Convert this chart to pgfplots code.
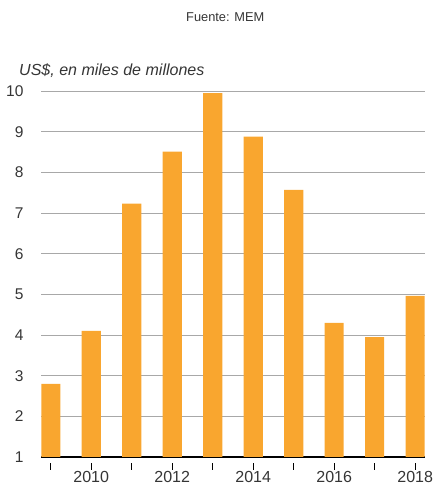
\documentclass[border=0pt]{standalone}
\usepackage{pgfplots}
\pgfplotsset{compat=1.18}
\usepackage{fontspec}
\setmainfont{Liberation Sans}
\definecolor{barorange}{HTML}{F9A62F}
\definecolor{gridgray}{HTML}{A8A8A8}
\definecolor{txtgray}{HTML}{353535}
\begin{document}
\begin{tikzpicture}
\begin{axis}[
  scale only axis,
  width=383.5pt, height=365.5pt,
  xmin=2008.76, xmax=2018.24,
  ymin=1, ymax=10,
  ybar, bar width=19pt, bar shift=0pt,
  axis x line*=bottom,
  axis y line*=left,
  x axis line style={black, line width=1.6pt},
  y axis line style={draw=none},
  ytick={1,2,...,10},
  ymajorgrids,
  major grid style={gridgray, line width=0.8pt},
  ytick style={draw=none},
  xtick={2009,2010,...,2018},
  xticklabels={,2010,,2012,,2014,,2016,,2018},
  tick align=outside,
  major tick length=13pt,
  xtick style={black, line width=0.9pt, dash pattern=on 7pt off 6pt},
  xticklabel style={font=\fontsize{16}{16}\selectfont, color=txtgray, inner sep=0pt, yshift=-1.5pt},
  yticklabel style={font=\fontsize{15.5}{16}\selectfont, color=txtgray, xshift=-1pt},
  /pgf/number format/assume math mode=true,
  clip=true,
]
\addplot[fill=barorange, draw=none] coordinates {
  (2009,2.80) (2010,4.10) (2011,7.23) (2012,8.51) (2013,9.95)
  (2014,8.88) (2015,7.57) (2016,4.30) (2017,3.95) (2018,4.96)
};
\coordinate (bl) at (rel axis cs:0,0);
\coordinate (tr) at (rel axis cs:1,1);
\coordinate (tl) at (rel axis cs:0,1);
\end{axis}
\node[anchor=base west, font=\itshape\fontsize{16}{16}\selectfont, color=txtgray, inner sep=0pt] at ([shift={(-22pt,16pt)}]tl) {US\$, en miles de millones};
\node[anchor=base, font=\fontsize{12.8}{13}\selectfont, color=txtgray, inner sep=0pt] at ([shift={(184pt,70pt)}]tl) {Fuente: MEM};
\pgfresetboundingbox
\path ([shift={(-41pt,-31pt)}]bl) rectangle ([shift={(8pt,91pt)}]tr);
\end{tikzpicture}
\end{document}
